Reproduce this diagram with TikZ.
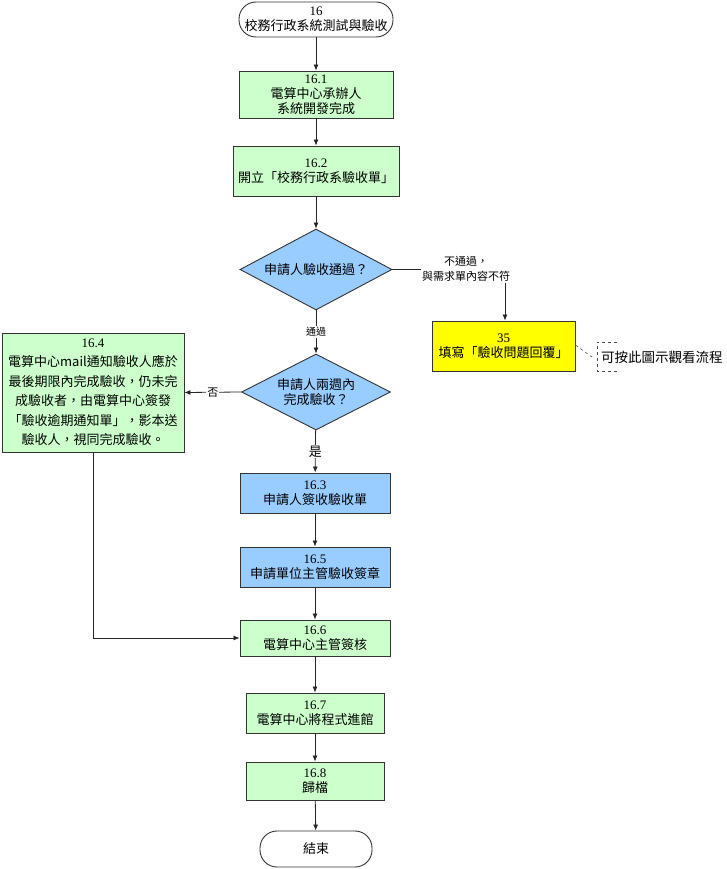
\documentclass[tikz,border=0pt]{standalone}
\usepackage{fontspec}
\setmainfont{Liberation Serif}
\newfontfamily\cjk{Noto Sans CJK TC}
\usetikzlibrary{arrows.meta,shapes.geometric}
\definecolor{gfill}{RGB}{204,255,204}
\definecolor{bfill}{RGB}{153,204,255}
\definecolor{yfill}{RGB}{255,255,0}
\newcommand{\C}[1]{{\cjk #1}}
\tikzset{
  base/.style={draw=black!80, line width=0.9pt, align=center, inner sep=0pt,
    font=\fontsize{13}{15}\selectfont},
  gbox/.style={base, fill=gfill},
  bbox/.style={base, fill=bfill},
  ybox/.style={base, fill=yfill},
  term/.style={base, fill=white, rounded corners=17pt},
  dia/.style={base, diamond, fill=bfill, aspect=1.9},
  arr/.style={draw=black!85, line width=0.8pt, -{Latex[length=6pt,width=5pt]}},
  lbl/.style={fill=white, inner sep=1pt, align=center}
}
\begin{document}
\begin{tikzpicture}[x=1pt,y=-1pt]
\useasboundingbox (0,0) rectangle (726,869);
\node[term, minimum width=154pt, minimum height=35pt] (start) at (316,19.5) {16\\\C{校務行政系統測試與驗收}};
\node[gbox, minimum width=154pt, minimum height=47pt] (n161) at (316,94.5) {16.1\\\C{電算中心承辦人}\\\C{系統開發完成}};
\node[gbox, minimum width=166pt, minimum height=50pt] (n162) at (316,171) {16.2\\\C{開立「校務行政系驗收單」}};
\node[dia, minimum width=152pt, minimum height=81pt] (d1) at (316,269.5) {\C{申請人驗收通過？}};
\node[ybox, minimum width=143pt, minimum height=50pt] (n35) at (503.5,346) {35\\\C{填寫「驗收問題回覆」}};
\node[dia, minimum width=149pt, minimum height=76pt] (d2) at (316,392) {\C{申請人兩週內}\\\C{完成驗收？}};
\node[gbox, minimum width=182pt, minimum height=119pt, font=\fontsize{13}{19.5}\selectfont] (n164) at (93,392.5)
  {16.4\\\C{電算中心mail通知驗收人應於}\\\C{最後期限內完成驗收，仍未完}\\\C{成驗收者，由電算中心簽發}\\\C{「驗收逾期通知單」，影本送}\\\C{驗收人，視同完成驗收。}};
\node[bbox, minimum width=150pt, minimum height=40pt] (n163) at (315,493) {16.3\\\C{申請人簽收驗收單}};
\node[bbox, minimum width=150pt, minimum height=40pt] (n165) at (315,567) {16.5\\\C{申請單位主管驗收簽章}};
\node[gbox, minimum width=150pt, minimum height=36pt] (n166) at (315,638) {16.6\\\C{電算中心主管簽核}};
\node[gbox, minimum width=138pt, minimum height=40pt] (n167) at (315,713) {16.7\\\C{電算中心將程式進館}};
\node[gbox, minimum width=138pt, minimum height=38pt] (n168) at (315,781) {16.8\\\C{歸檔}};
\node[term, minimum width=112pt, minimum height=36pt] (end) at (316,849) {\C{結束}};

\draw[arr] (start) -- (n161);
\draw[arr] (n161) -- (n162);
\draw[arr] (n162) -- (d1);
\coordinate (c1) at (505,269.5);
\draw[arr] (d1.east) -- (c1) -- (n35.north -| c1);
\node[lbl, font=\fontsize{11}{15}\selectfont] (l1) at (466,269) {\C{不通過，}\\\C{與需求單內容不符}};
\draw[arr] (d1) -- node[lbl, font=\fontsize{10}{12}\selectfont] (l2) {\C{通過}} (d2);
\draw[arr] (d2.west) -- node[lbl, font=\fontsize{11}{12}\selectfont] (l3) {\C{否}} (n164.east);
\draw[arr] (d2) -- node[lbl, font=\fontsize{13}{14}\selectfont] (l4) {\C{是}} (n163);
\draw[arr] (n163) -- (n165);
\draw[arr] (n165) -- (n166);
\draw[arr] (n164.south) |- (n166.west);
\draw[arr] (n166) -- (n167);
\draw[arr] (n167) -- (n168);
\draw[arr] (n168) -- (end);

% hyperlink callout
\coordinate (cal) at (592,357);
\draw[black!70, dashed, line width=0.6pt] (n35.east |- 0,345) -- (cal);
\draw[black!70, dashed, line width=0.6pt] (617,342) -- (597,342) -- (597,371) -- (617,371);
\node[fill=white, inner sep=1pt, anchor=west, font=\fontsize{13.5}{15}\selectfont] (tip) at (600,357) {\C{可按此圖示觀看流程}};
\end{tikzpicture}
\end{document}
